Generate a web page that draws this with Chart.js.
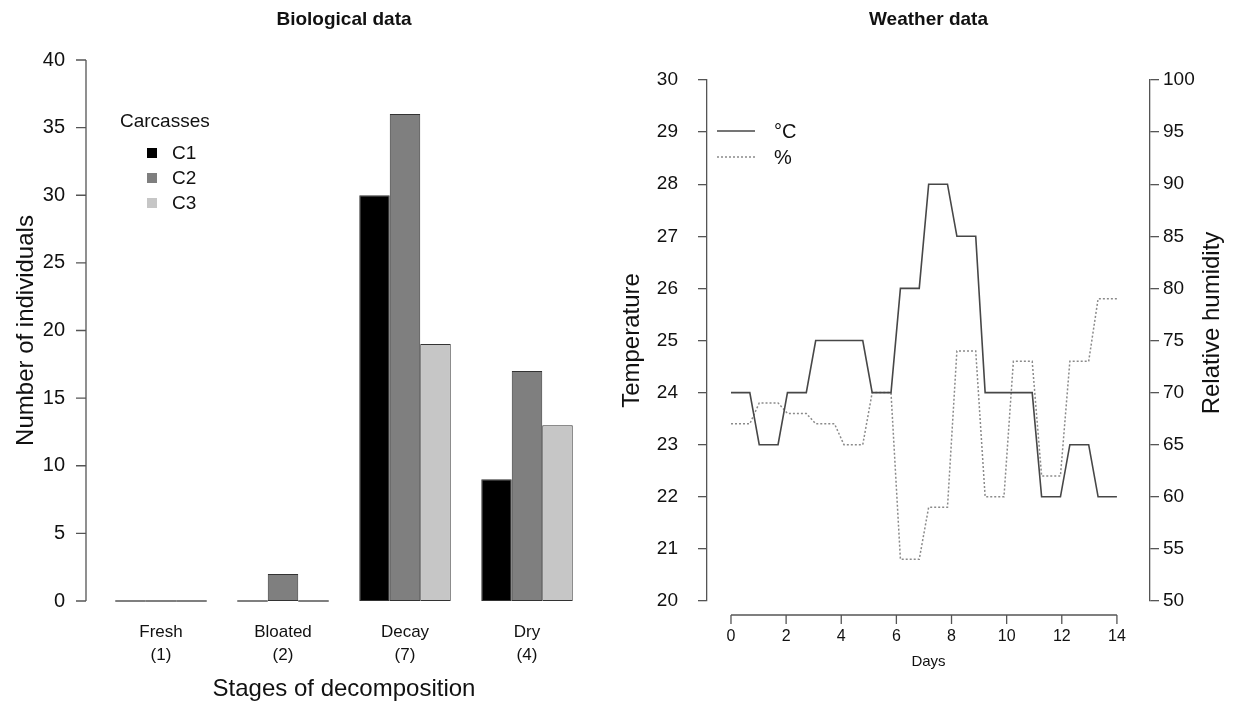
<!DOCTYPE html>
<html>
<head>
<meta charset="utf-8">
<script src="https://cdn.jsdelivr.net/npm/chart.js@4/dist/chart.umd.min.js"></script>
<style>
  html, body { margin: 0; padding: 0; background: #fff; }
  #wrap { position: relative; width: 1237px; height: 706px; }
  canvas { position: absolute; top: 0; }
  #bioChart { left: 0; }
  #weatherChart { left: 618px; }
</style>
</head>
<body>
<div id="wrap">
  <canvas id="bioChart" width="618" height="706"></canvas>
  <canvas id="weatherChart" width="619" height="706"></canvas>
</div>
<script>
// ---- biological data (counts per decomposition stage) ----
const stages = [['Fresh', '(1)'], ['Bloated', '(2)'], ['Decay', '(7)'], ['Dry', '(4)']];
const carcassNames = ['C1', 'C2', 'C3'];
const c1Counts = [0, 0, 30, 9];
const c2Counts = [0, 2, 36, 17];
const c3Counts = [0, 0, 19, 13];
const carcassColors = ['#000000', '#7f7f7f', '#c6c6c6'];

// ---- weather data (3 readings a day over 14 days) ----
const dayTicks = [0, 2, 4, 6, 8, 10, 12, 14];
const tempTicks = [20, 21, 22, 23, 24, 25, 26, 27, 28, 29, 30];
const humidityTicks = [50, 55, 60, 65, 70, 75, 80, 85, 90, 95, 100];
const tempReadings = [24, 24, 24, 23, 23, 23, 24, 24, 24, 25, 25, 25, 25, 25, 25, 24, 24, 24, 26, 26, 26,
                      28, 28, 28, 27, 27, 27, 24, 24, 24, 24, 24, 24, 22, 22, 22, 23, 23, 23, 22, 22, 22];
const humidityReadings = [67, 67, 67, 69, 69, 69, 68, 68, 68, 67, 67, 67, 65, 65, 65, 70, 70, 70, 54, 54, 54,
                          59, 59, 59, 74, 74, 74, 60, 60, 60, 73, 73, 73, 62, 62, 62, 73, 73, 73, 79, 79, 79];
const lastDay = 14;

const FONT = "'Liberation Sans', Arial, Helvetica, sans-serif";
const AXIS = '#555555';
const TEXT = '#111111';

Chart.defaults.font.family = FONT;
Chart.defaults.color = TEXT;

// zero counts are drawn as a flat line, like R's barplot does
const zeroBars = {
  id: 'zeroBars',
  afterDatasetsDraw(chart) {
    const ctx = chart.ctx;
    ctx.save();
    ctx.strokeStyle = AXIS;
    ctx.lineWidth = 1.5;
    chart.data.datasets.forEach((ds, i) => {
      chart.getDatasetMeta(i).data.forEach((bar, j) => {
        if (ds.data[j] !== 0) return;
        ctx.beginPath();
        ctx.moveTo(bar.x - bar.width / 2, bar.y);
        ctx.lineTo(bar.x + bar.width / 2, bar.y);
        ctx.stroke();
      });
    });
    ctx.restore();
  }
};

// detached y axis + legend for the bar chart
const bioExtras = {
  id: 'bioExtras',
  afterDraw(chart) {
    const ctx = chart.ctx;
    const y = chart.scales.y;
    const ax = chart.chartArea.left - 14;
    ctx.save();
    ctx.strokeStyle = AXIS;
    ctx.lineWidth = 1.3;
    ctx.beginPath();
    ctx.moveTo(ax, y.getPixelForValue(y.min));
    ctx.lineTo(ax, y.getPixelForValue(y.max));
    y.ticks.forEach(t => {
      const py = y.getPixelForValue(t.value);
      ctx.moveTo(ax, py);
      ctx.lineTo(ax - 10, py);
    });
    ctx.stroke();

    ctx.fillStyle = TEXT;
    ctx.font = '19px ' + FONT;
    ctx.textBaseline = 'middle';
    ctx.textAlign = 'left';
    ctx.fillText('Carcasses', 120, 122);
    chart.data.datasets.forEach((ds, i) => {
      const cy = 153 + i * 25;
      ctx.fillStyle = ds.backgroundColor;
      ctx.fillRect(147, cy - 5, 10, 10);
      ctx.fillStyle = TEXT;
      ctx.fillText(ds.label, 172, cy + 1);
    });
    ctx.restore();
  }
};

new Chart(document.getElementById('bioChart'), {
  type: 'bar',
  data: {
    labels: stages,
    datasets: carcassNames.map((name, i) => ({
      label: name,
      data: [c1Counts, c2Counts, c3Counts][i],
      backgroundColor: carcassColors[i],
      borderColor: '#333333',
      borderWidth: 1,
      borderSkipped: false,
      barPercentage: 1,
      categoryPercentage: 0.75
    }))
  },
  options: {
    responsive: false,
    animation: false,
    devicePixelRatio: 1,
    layout: { padding: { left: 0, right: 30, top: 0, bottom: 0 } },
    plugins: {
      legend: { display: false },
      tooltip: { enabled: false },
      title: {
        display: true,
        text: 'Biological data',
        fullSize: false,
        font: { size: 19, weight: 'bold' },
        color: TEXT,
        padding: { top: 8.6, bottom: 28.6 }
      }
    },
    scales: {
      x: {
        grid: { display: false, drawTicks: false },
        border: { display: false },
        ticks: { font: { size: 17, lineHeight: 1.353 }, padding: 19.5, maxRotation: 0, color: TEXT },
        title: { display: true, text: 'Stages of decomposition', font: { size: 24 }, color: TEXT, padding: { top: 0, bottom: 2 } },
        afterFit(scale) { scale.height = 105; }
      },
      y: {
        min: 0,
        max: 40,
        grid: { display: false, drawTicks: false },
        border: { display: false },
        ticks: { stepSize: 5, font: { size: 20 }, padding: 35, color: TEXT },
        title: { display: true, text: 'Number of individuals', font: { size: 24 }, color: TEXT, padding: { top: 12, bottom: 0 } },
        afterFit(scale) { scale.width = 100; }
      }
    }
  },
  plugins: [zeroBars, bioExtras]
});

// detached x axis, right-hand title and legend for the weather chart
const weatherExtras = {
  id: 'weatherExtras',
  afterDraw(chart) {
    const ctx = chart.ctx;
    const x = chart.scales.x;
    const ay = chart.chartArea.bottom + 14;
    ctx.save();
    ctx.strokeStyle = AXIS;
    ctx.lineWidth = 1.3;
    ctx.beginPath();
    ctx.moveTo(x.getPixelForValue(dayTicks[0]), ay);
    ctx.lineTo(x.getPixelForValue(dayTicks[dayTicks.length - 1]), ay);
    dayTicks.forEach(d => {
      const px = x.getPixelForValue(d);
      ctx.moveTo(px, ay);
      ctx.lineTo(px, ay + 9);
    });
    ctx.stroke();

    ctx.fillStyle = TEXT;
    ctx.font = '24px ' + FONT;
    ctx.textAlign = 'center';
    ctx.textBaseline = 'middle';
    ctx.translate(594, 323);
    ctx.rotate(-Math.PI / 2);
    ctx.fillText('Relative humidity', 0, 0);
    ctx.restore();

    ctx.save();
    ctx.font = '20px ' + FONT;
    ctx.textBaseline = 'middle';
    ctx.fillStyle = TEXT;
    chart.data.datasets.forEach((ds, i) => {
      const ly = 131 + i * 26;
      ctx.strokeStyle = ds.borderColor;
      ctx.lineWidth = ds.borderWidth;
      ctx.setLineDash(ds.borderDash || []);
      ctx.beginPath();
      ctx.moveTo(99, ly);
      ctx.lineTo(137, ly);
      ctx.stroke();
      ctx.fillText(ds.label, 156, ly + 1);
    });
    ctx.restore();
  }
};

new Chart(document.getElementById('weatherChart'), {
  type: 'line',
  data: {
    datasets: [
      {
        label: '°C',
        data: tempReadings.map((t, i) => ({ x: i * lastDay / (tempReadings.length - 1), y: t })),
        borderColor: '#474747',
        borderWidth: 1.6,
        pointRadius: 0,
        fill: false,
        yAxisID: 'y'
      },
      {
        label: '%',
        data: humidityReadings.map((h, i) => ({ x: i * lastDay / (humidityReadings.length - 1), y: h })),
        borderColor: '#8a8a8a',
        borderWidth: 1.5,
        borderDash: [2, 2],
        pointRadius: 0,
        fill: false,
        yAxisID: 'y1'
      }
    ]
  },
  options: {
    responsive: false,
    animation: false,
    devicePixelRatio: 1,
    layout: { padding: 0 },
    plugins: {
      legend: { display: false },
      tooltip: { enabled: false },
      title: {
        display: true,
        text: 'Weather data',
        fullSize: false,
        font: { size: 19, weight: 'bold' },
        color: TEXT,
        padding: { top: 8.6, bottom: 48.6 }
      }
    },
    scales: {
      x: {
        type: 'linear',
        min: -0.87,
        max: 15.2,
        grid: { display: false, drawTicks: false },
        border: { display: false },
        afterBuildTicks(scale) { scale.ticks = dayTicks.map(v => ({ value: v })); },
        ticks: { font: { size: 16 }, padding: 26.4, maxRotation: 0, color: TEXT },
        title: { display: true, text: 'Days', font: { size: 15 }, color: TEXT, padding: { top: 0, bottom: 35 } },
        afterFit(scale) { scale.height = 105; }
      },
      y: {
        position: 'left',
        min: 20,
        max: 30,
        grid: { drawOnChartArea: false, drawTicks: true, tickLength: 9, color: AXIS, lineWidth: 1.3 },
        border: { display: true, color: AXIS, width: 1.3 },
        afterBuildTicks(scale) { scale.ticks = tempTicks.map(v => ({ value: v })); },
        ticks: { font: { size: 19 }, padding: 20, color: TEXT },
        title: { display: true, text: 'Temperature', font: { size: 24 }, color: TEXT, padding: { top: 0, bottom: 0 } },
        afterFit(scale) { scale.width = 89; }
      },
      y1: {
        position: 'right',
        min: 50,
        max: 100,
        grid: { drawOnChartArea: false, drawTicks: true, tickLength: 9, color: AXIS, lineWidth: 1.3 },
        border: { display: true, color: AXIS, width: 1.3 },
        afterBuildTicks(scale) { scale.ticks = humidityTicks.map(v => ({ value: v })); },
        ticks: { font: { size: 19 }, padding: 4, color: TEXT },
        afterFit(scale) { scale.width = 87; }
      }
    }
  },
  plugins: [weatherExtras]
});
</script>
</body>
</html>
